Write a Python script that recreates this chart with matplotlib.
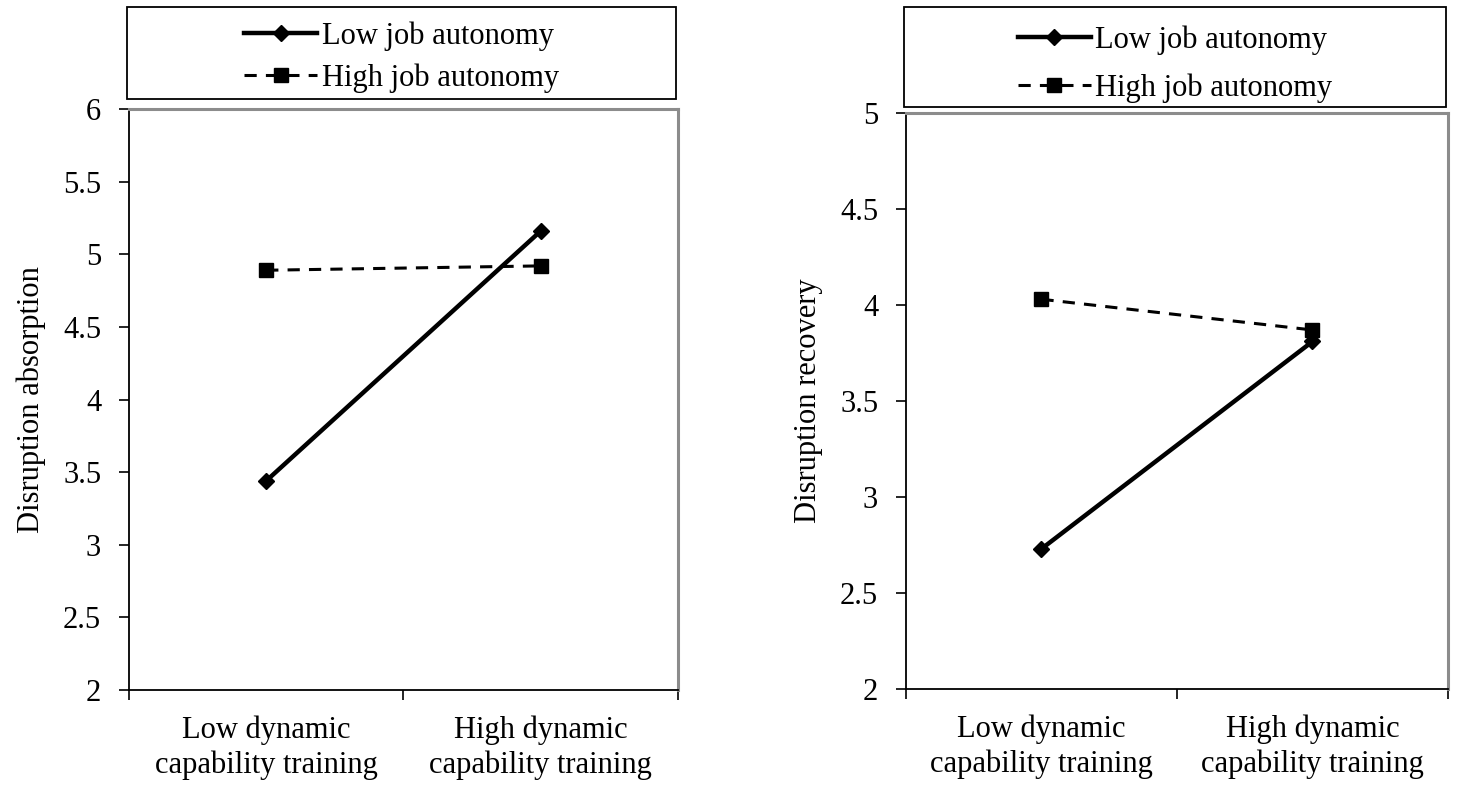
import numpy as np
import matplotlib
matplotlib.use("Agg")
import matplotlib.pyplot as plt
from matplotlib.patches import Rectangle

plt.rcParams['font.family'] = ['Liberation Serif', 'DejaVu Serif']

# data
categories = ["Low dynamic\ncapability training", "High dynamic\ncapability training"]
series_names = ["Low job autonomy", "High job autonomy"]
absorption_low = [3.44, 5.16]
absorption_high = [4.89, 4.92]
recovery_low = [2.73, 3.81]
recovery_high = [4.03, 3.87]

fig = plt.figure(figsize=(14.57, 7.86), dpi=100)
fs = 22

def make_panel(rect, low, high, ylim, yticks, ylabel, legbox, legshift, labelspacing):
    ax = fig.add_axes(rect)
    x = np.arange(len(categories)) + 0.5
    l1, = ax.plot(x, low, color='black', lw=3.2, marker='D', ms=8,
                  label=series_names[0])
    l2, = ax.plot(x, high, color='black', lw=2.2, ls=(0, (4, 3)), marker='s',
                  ms=10, label=series_names[1])
    ax.set_xlim(0, 2)
    ax.set_ylim(*ylim)
    ax.set_yticks(yticks)
    ax.set_yticklabels([('%g' % t) for t in yticks], fontsize=fs)
    ax.set_xticks([0, 1, 2])
    ax.set_xticklabels([])
    ax.set_xticks(x, minor=True)
    ax.set_xticklabels(categories, minor=True, fontsize=fs, linespacing=1.25)
    ax.tick_params(axis='x', which='major', direction='out', length=7, width=1.2)
    ax.tick_params(axis='x', which='minor', length=0, pad=18)
    ax.tick_params(axis='y', direction='out', length=7, width=1.2, pad=13)
    ax.set_ylabel(ylabel, fontsize=fs, labelpad=12)
    for s in ['top', 'right']:
        ax.spines[s].set_color('#8c8c8c')
        ax.spines[s].set_linewidth(2.2)
    for s in ['left', 'bottom']:
        ax.spines[s].set_color('black')
        ax.spines[s].set_linewidth(1.3)
    # legend box above the plot
    x0, y0, w, h = legbox
    fig.patches.append(Rectangle((x0, y0), w, h, transform=fig.transFigure,
                                 fill=False, edgecolor='black', lw=1.3))
    fig.legend(handles=[l1, l2], loc='center',
               bbox_to_anchor=(x0 + w / 2, y0 + h / 2 - legshift),
               frameon=False, fontsize=fs, handlelength=2.4, handletextpad=0.15,
               labelspacing=labelspacing, numpoints=1)
    return ax

make_panel([0.0885, 0.1221, 0.3768, 0.7392], absorption_low, absorption_high,
           (2, 6), [2, 2.5, 3, 3.5, 4, 4.5, 5, 5.5, 6], "Disruption absorption",
           (0.0872, 0.874, 0.3768, 0.117), 0.005, 0.4)
make_panel([0.6218, 0.1234, 0.3720, 0.7328], recovery_low, recovery_high,
           (2, 5), [2, 2.5, 3, 3.5, 4, 4.5, 5], "Disruption recovery",
           (0.6205, 0.8639, 0.3720, 0.127), 0.009, 0.6)

fig.savefig("out.png", dpi=100)
